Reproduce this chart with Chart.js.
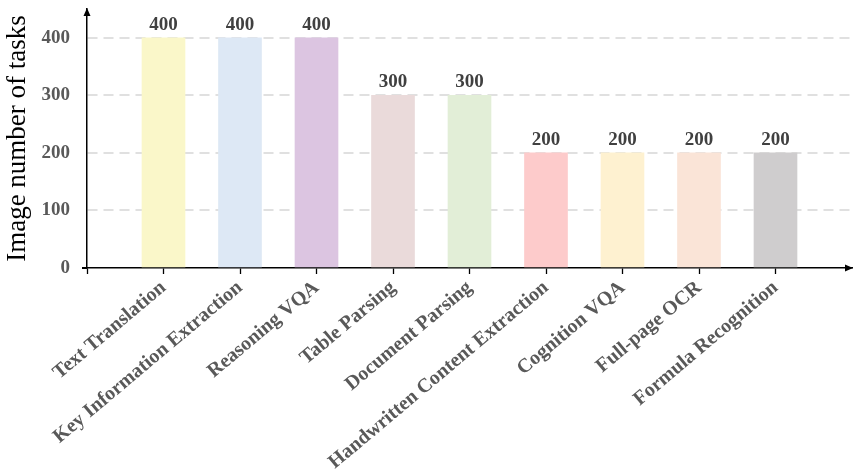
<!DOCTYPE html>
<html>
<head>
<meta charset="utf-8">
<script src="https://cdn.jsdelivr.net/npm/chart.js@4"></script>
<style>
	html, body { margin: 0; padding: 0; background: #fff; }
	#wrap { width: 855px; height: 473px; }
</style>
</head>
<body>
<div id="wrap"><canvas id="myChart"></canvas></div>
<script>
/* Data */
const categories = [
	'Text Translation',
	'Key Information Extraction',
	'Reasoning VQA',
	'Table Parsing',
	'Document Parsing',
	'Handwritten Content Extraction',
	'Cognition VQA',
	'Full-page OCR',
	'Formula Recognition',
]
const taskCounts = [400, 400, 400, 300, 300, 200, 200, 200, 200]
const barColors = [
	'#faf7c9', '#dde8f5', '#dcc5e1', '#eadada', '#e2eed7',
	'#fdcbcb', '#fef1d0', '#fae4d7', '#cfcdce',
]
const yTicks = [0, 100, 200, 300, 400]

const serif = '"Liberation Serif", "Times New Roman", serif'

/* Plugin: value labels + axis arrows */
const extras = {
	id: 'extras',
	afterDatasetsDraw(chart) {
		const { ctx } = chart
		const meta = chart.getDatasetMeta(0)
		ctx.save()
		ctx.fillStyle = '#404040'
		ctx.font = 'bold 19px ' + serif
		ctx.textAlign = 'center'
		ctx.textBaseline = 'alphabetic'
		meta.data.forEach(function (bar, i) {
			ctx.fillText(String(taskCounts[i]), bar.x, bar.y - 8)
		})
		ctx.restore()
	},
	afterDraw(chart) {
		const { ctx, chartArea } = chart
		ctx.save()
		ctx.fillStyle = '#000'
		// y arrow
		ctx.beginPath()
		ctx.moveTo(chartArea.left, chartArea.top - 1)
		ctx.lineTo(chartArea.left - 3.5, chartArea.top + 7)
		ctx.lineTo(chartArea.left + 3.5, chartArea.top + 7)
		ctx.closePath()
		ctx.fill()
		// x arrow
		ctx.beginPath()
		ctx.moveTo(chartArea.right + 1, chartArea.bottom)
		ctx.lineTo(chartArea.right - 7, chartArea.bottom - 3.5)
		ctx.lineTo(chartArea.right - 7, chartArea.bottom + 3.5)
		ctx.closePath()
		ctx.fill()
		ctx.restore()
	},
}

const ctx = document.getElementById('myChart')

new Chart(ctx, {
	type: 'bar',
	data: {
		datasets: [
			{
				data: taskCounts.map((v, i) => ({ x: i + 1, y: v })),
				backgroundColor: barColors,
				borderWidth: 0,
				barThickness: 43,
			},
		],
	},
	plugins: [extras],
	options: {
		responsive: true,
		maintainAspectRatio: false,
		animation: false,
		layout: { padding: { top: 9, right: 3, left: 0, bottom: 0 } },
		plugins: {
			legend: { display: false },
			tooltip: { enabled: false },
		},
		scales: {
			x: {
				type: 'linear',
				min: 0,
				max: 10,
				offset: false,
				afterFit: (s) => {
					s.height = 205
					s.paddingLeft = 0
					s.paddingRight = 0
				},
				afterBuildTicks: (axis) => {
					axis.ticks = []
					for (let i = 0; i <= categories.length + 1; i++) axis.ticks.push({ value: i })
				},
				ticks: {
					stepSize: 1,
					autoSkip: false,
					minRotation: 40,
					maxRotation: 40,
					padding: 2,
					color: '#595959',
					font: { family: serif, size: 20, weight: 'bold' },
					callback: (v) => categories[v - 1] || '',
				},
				grid: {
					offset: false,
					drawOnChartArea: false,
					tickLength: 6,
					tickWidth: 1.3,
					tickColor: (c) => (c.tick && c.tick.value <= categories.length ? '#000' : 'rgba(0,0,0,0)'),
				},
				border: { color: '#000', width: 1.5 },
			},
			y: {
				min: 0,
				max: 450,
				afterFit: (s) => {
					s.width = 87
					s.paddingTop = 0
					s.paddingBottom = 0
				},
				afterBuildTicks: (axis) => {
					axis.ticks = yTicks.map((v) => ({ value: v }))
				},
				ticks: {
					padding: 12,
					color: '#595959',
					font: { family: serif, size: 19, weight: 'bold' },
				},
				grid: {
					color: (c) => (c.tick && c.tick.value > 0 ? '#e0e0e0' : 'rgba(0,0,0,0)'),
					lineWidth: 2,
					tickLength: 5,
					tickColor: (c) => (c.tick && c.tick.value === 0 ? '#000' : 'rgba(0,0,0,0)'),
				},
				border: { color: '#000', width: 1.5, dash: [10, 6] },
				title: {
					display: true,
					text: 'Image number of tasks',
					color: '#000',
					font: { family: serif, size: 27 },
					padding: { top: 2, bottom: 0 },
				},
			},
		},
	},
})
</script>
</body>
</html>
